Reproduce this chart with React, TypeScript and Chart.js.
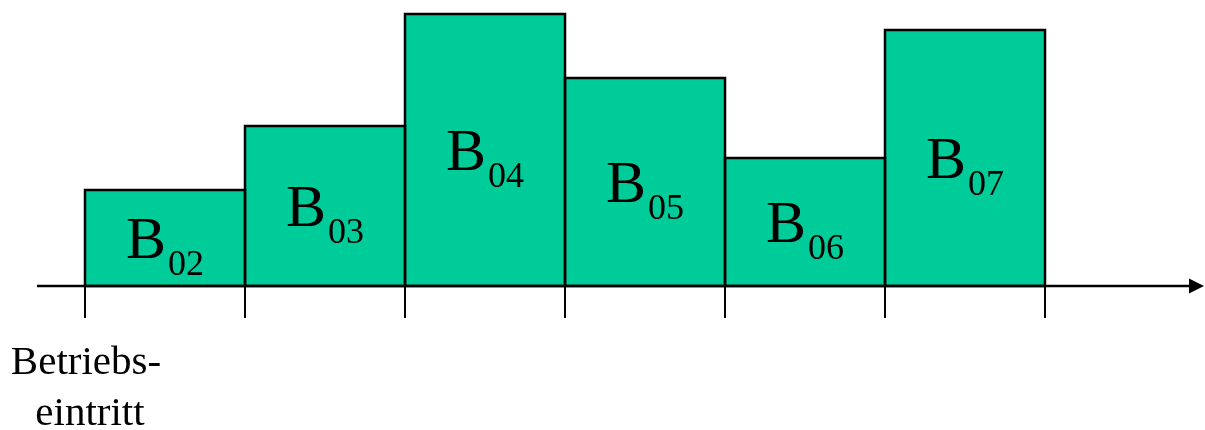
import React, { useEffect, useRef } from "react";
import { Chart, registerables } from "chart.js";

Chart.register(...registerables);

const categories = ["02", "03", "04", "05", "06", "07"];
const values = [3, 5, 8.5, 6.5, 4, 8];
const startLabel = ["Betriebs-", "eintritt"];

const FILL = "rgb(0,204,153)";
const SERIF = "'Liberation Serif', 'Times New Roman', serif";

const overlay = {
  id: "overlay",
  afterDatasetsDraw(chart: any) {
    const ctx = chart.ctx as CanvasRenderingContext2D;
    const meta = chart.getDatasetMeta(0);
    const yBase = chart.scales.y.getPixelForValue(0);
    ctx.save();
    // bar outlines
    ctx.strokeStyle = "#000";
    ctx.lineWidth = 2.5;
    meta.data.forEach((bar: any) => {
      const p = bar.getProps(["x", "y", "width", "base"], true);
      const l = p.x - p.width / 2;
      ctx.strokeRect(l, p.y, p.width, p.base - p.y);
    });
    // labels
    meta.data.forEach((bar: any, i: number) => {
      const p = bar.getProps(["x", "y", "width", "base"], true);
      const mid = (p.y + p.base) / 2;
      ctx.fillStyle = "#000";
      ctx.textBaseline = "alphabetic";
      ctx.textAlign = "left";
      ctx.font = `60px ${SERIF}`;
      const wB = ctx.measureText("B").width;
      ctx.font = `36px ${SERIF}`;
      const wS = ctx.measureText(categories[i]).width;
      const total = wB + 2 + wS;
      const x0 = p.x - total / 2;
      const base = mid + 20;
      ctx.font = `60px ${SERIF}`;
      ctx.fillText("B", x0, base);
      ctx.font = `36px ${SERIF}`;
      ctx.fillText(categories[i], x0 + wB + 2, base + 17);
    });
    // axis line
    ctx.lineWidth = 2.5;
    ctx.beginPath();
    ctx.moveTo(37, yBase);
    ctx.lineTo(1192, yBase);
    ctx.stroke();
    ctx.beginPath();
    ctx.moveTo(1204, yBase);
    ctx.lineTo(1189, yBase - 7.5);
    ctx.lineTo(1189, yBase + 7.5);
    ctx.closePath();
    ctx.fill();
    // ticks at category boundaries
    ctx.lineWidth = 2;
    const bounds: number[] = [];
    meta.data.forEach((bar: any, i: number) => {
      const p = bar.getProps(["x", "width"], true);
      if (i === 0) bounds.push(p.x - p.width / 2);
      bounds.push(p.x + p.width / 2);
    });
    bounds.forEach((bx) => {
      ctx.beginPath();
      ctx.moveTo(bx, yBase);
      ctx.lineTo(bx, yBase + 32);
      ctx.stroke();
    });
    // start label
    ctx.font = `41px ${SERIF}`;
    ctx.textAlign = "center";
    ctx.fillText(startLabel[0], 86, yBase + 88);
    ctx.fillText(startLabel[1], 90, yBase + 139);
    ctx.restore();
  },
};

export default function App() {
  const ref = useRef<HTMLCanvasElement | null>(null);
  useEffect(() => {
    if (!ref.current) return;
    const chart = new Chart(ref.current, {
      type: "bar",
      data: {
        labels: categories.map((c) => "B" + c),
        datasets: [
          {
            data: values,
            backgroundColor: FILL,
            borderWidth: 0,
            barPercentage: 1,
            categoryPercentage: 1,
          },
        ],
      },
      options: {
        animation: false,
        responsive: false,
        maintainAspectRatio: false,
        layout: { padding: { left: 85, right: 160, top: 14, bottom: 144 } },
        plugins: { legend: { display: false }, tooltip: { enabled: false } },
        scales: {
          x: { display: false },
          y: { display: false, min: 0, max: 8.5 },
        },
      },
      plugins: [overlay],
    });
    return () => chart.destroy();
  }, []);
  return (
    <div style={{ position: "fixed", left: 0, top: 0, width: 1205, height: 430, background: "#fff" }}>
      <canvas ref={ref} width={1205} height={430} style={{ width: 1205, height: 430, display: "block" }} />
    </div>
  );
}
